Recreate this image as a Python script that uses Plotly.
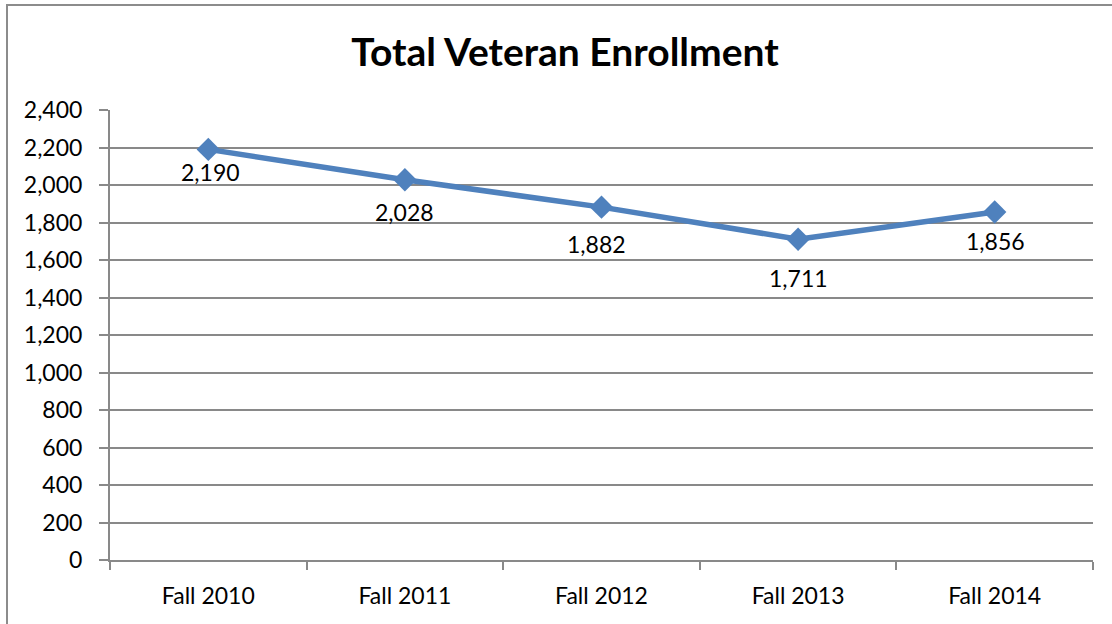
import plotly.graph_objects as go

categories = ["Fall 2010", "Fall 2011", "Fall 2012", "Fall 2013", "Fall 2014"]
enrollment = [2190, 2028, 1882, 1711, 1856]
label_text = ["2,190", "2,028", "1,882", "1,711", "1,856"]
y_ticks = list(range(0, 2401, 200))

# label placement (pixels below each point), as in the original chart
label_dy = [23, 32, 37, 39, 29]
label_dx = [2, 0, -5, 0, 1]

FONT = "Lato, Carlito, Calibri, sans-serif"
GRID = "#898989"

fig = go.Figure()
fig.add_trace(go.Scatter(
    x=categories, y=enrollment, mode="lines+markers",
    line=dict(color="#4F81BD", width=5.5),
    marker=dict(symbol="diamond", size=18, color="#4F81BD"),
    cliponaxis=False, showlegend=False, hoverinfo="x+y",
))

for c, v, t, dy, dx in zip(categories, enrollment, label_text, label_dy, label_dx):
    fig.add_annotation(x=c, y=v, text=t, showarrow=False, xanchor="center",
                       yanchor="middle", yshift=-dy, xshift=dx,
                       font=dict(family=FONT, size=23, color="#000000"))

W, H = 1112, 624
L, R, T, B = 110, 19, 110, 64
pw, ph = W - L - R, H - T - B

def px_x(p):
    return (p - L) / pw

def px_y(p):
    return (H - B - p) / ph

fig.add_shape(type="rect", xref="paper", yref="paper",
              x0=px_x(7), x1=px_x(1130), y0=px_y(5), y1=px_y(640),
              line=dict(color="#8c8c8c", width=2), fillcolor="rgba(0,0,0,0)")

fig.update_layout(
    width=W, height=H,
    margin=dict(l=L, r=R, t=T, b=B, autoexpand=False),
    paper_bgcolor="white", plot_bgcolor="white",
    title=dict(text="<b>Total Veteran Enrollment</b>", x=565 / W, xref="container",
               xanchor="center", y=1 - 52 / H, yref="container", yanchor="middle",
               font=dict(family=FONT, size=39, color="#000000")),
    font=dict(family=FONT, size=23, color="#000000"),
)
fig.update_xaxes(
    type="category", showgrid=False, showline=True, linecolor=GRID, linewidth=2,
    ticks="outside", tickson="boundaries", ticklen=8, tickcolor=GRID, tickwidth=2,
    tickfont=dict(family=FONT, size=23, color="#000000"), mirror=False,
    range=[-0.5, 4.5], ticklabelstandoff=14,
)
fig.update_yaxes(
    range=[0, 2400], tickvals=y_ticks, ticktext=[f"{v:,}" for v in y_ticks],
    showgrid=True, gridcolor=GRID, gridwidth=2, showline=True, linecolor=GRID, linewidth=2,
    ticks="outside", ticklen=9, tickcolor=GRID, tickwidth=2, zeroline=False,
    tickfont=dict(family=FONT, size=23, color="#000000"), ticklabelstandoff=12,
)

fig.write_html("out.html", config={"displayModeBar": False},
               post_script="document.body.style.margin='0';")
